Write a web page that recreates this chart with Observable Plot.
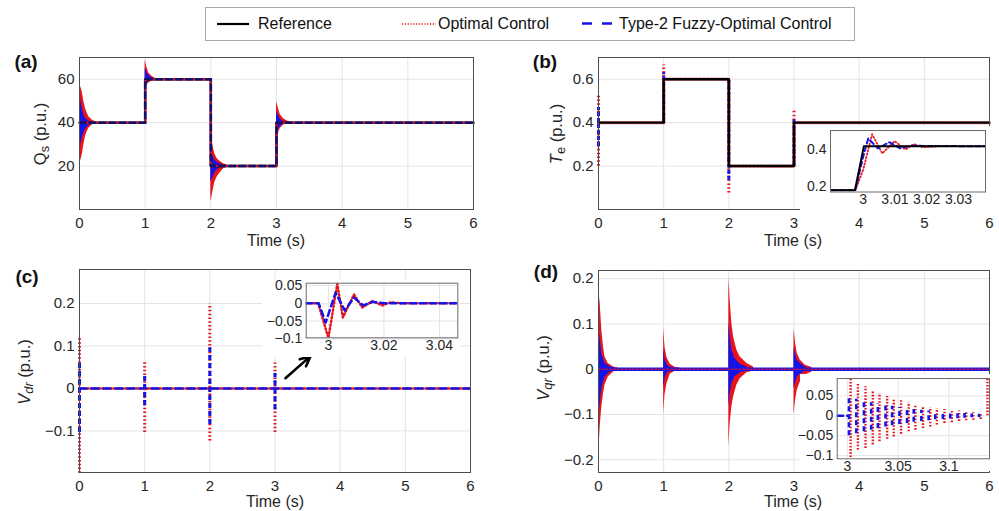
<!DOCTYPE html>
<html><head><meta charset="utf-8">
<script src="https://cdn.jsdelivr.net/npm/d3@7"></script>
<script src="https://cdn.jsdelivr.net/npm/@observablehq/plot@0.6"></script>
<style>
body{margin:0;background:#fff;}
#root{position:relative;width:999px;height:511px;overflow:hidden;font-family:"Liberation Sans",Arial,Helvetica,sans-serif;color:#262626;background:#fff;}
.lbl{position:absolute;transform:translate(-50%,-50%);white-space:nowrap;}
.letter{position:absolute;transform:translate(-50%,-50%);font-weight:bold;font-size:19px;color:#111;}
.xt{font-size:16px;}
.yt{position:absolute;font-size:16.5px;white-space:nowrap;transform:translate(-50%,-50%) rotate(-90deg);}
.yt sub{font-size:0.78em;vertical-align:-0.3em;line-height:0;}
.leg{position:absolute;font-size:16px;top:50%;transform:translateY(-50%);white-space:nowrap;color:#111;}
</style></head><body><div id="root"></div><script>
// ---------- data ----------
const timeTicks = [0, 1, 2, 3, 4, 5, 6];
const stepTimes = [0, 1, 2, 3, 6];
const qsRef = [40, 60, 20, 40, 40];
const teRef = [0.4, 0.6, 0.2, 0.4, 0.4];
const zeroTimes = [0, 6];
const zeroLevel = [0, 0];

const qsTicks = [20, 40, 60];
const teTicks = [0.2, 0.4, 0.6];
const vdrTicks = [-0.1, 0, 0.1, 0.2];
const vqrTicks = [-0.2, -0.1, 0, 0.1, 0.2];

// (a) Qs oscillation envelopes
const qsOptT   = [0, 0.04, 0.066, 0.09, 0.117, 0.142, 0.193, 0.244, 1.0, 1.03, 1.056, 1.107, 1.157, 2.0, 2.03, 2.06, 2.1, 2.15, 2.2, 2.25, 3.0, 3.036, 3.06, 3.112, 3.163, 3.214];
const qsOptHi  = [58.2, 54.3, 49.7, 46.6, 44.3, 42.7, 41.2, 40.4, 68.9, 65.1, 62.8, 61.2, 60.5, 35, 29.7, 25.6, 23.3, 22, 21, 20.5, 49.7, 45.8, 43.5, 41.7, 40.8, 40.3];
const qsOptLo  = [20.4, 25, 29.7, 33.5, 35.8, 37.4, 38.9, 39.7, 55.8, 57.4, 58.2, 59.3, 59.8, 3.5, 8, 12.5, 15.2, 17.3, 18.9, 19.6, 32.8, 35.8, 37.4, 38.9, 39.7, 40];
const qsOptSeg = [0, 0, 0, 0, 0, 0, 0, 0, 1, 1, 1, 1, 1, 2, 2, 2, 2, 2, 2, 2, 3, 3, 3, 3, 3, 3];
const qsFuzT   = [0, 0.015, 0.04, 0.066, 0.09, 0.142, 0.193, 1.0, 1.03, 1.07, 1.12, 2.0, 2.045, 2.085, 2.147, 2.198, 3.0, 3.036, 3.07, 3.122];
const qsFuzHi  = [51.2, 51, 46.6, 43.5, 41.9, 40.7, 40.1, 65.1, 62.8, 61.2, 60.5, 26.6, 23.5, 22, 21, 20.3, 45, 42.7, 41.2, 40.4];
const qsFuzLo  = [29.7, 29.7, 32.8, 35.1, 37.1, 38.7, 39.5, 56.6, 58, 59.3, 59.8, 12.7, 15.8, 18.1, 19.2, 19.8, 35.1, 37.1, 38.7, 39.5];
const qsFuzSeg = [0, 0, 0, 0, 0, 0, 0, 1, 1, 1, 1, 2, 2, 2, 2, 2, 3, 3, 3, 3];

// (b) Te transient spikes at the steps
const teSpikeT = [0, 1, 2, 3];
const teOptHi  = [0.53, 0.665, 0.6, 0.455];
const teOptLo  = [0.2, 0.4, 0.076, 0.2];
const teFuzHi  = [0.47, 0.63, 0.6, 0.42];
const teFuzLo  = [0.29, 0.4, 0.135, 0.2];

// (b) inset
const teInsXTicks = [3, 3.01, 3.02, 3.03];
const teInsYTicks = [0.2, 0.4];
const teInsRefT = [2.99, 2.9974, 3.0002, 3.0385];
const teInsRef  = [0.18, 0.18, 0.415, 0.415];
const teInsOptT = [2.99, 2.9975, 3.0, 3.0028, 3.006, 3.0099, 3.0133, 3.0159, 3.019, 3.0233];
const teInsOpt  = [0.18, 0.18, 0.29, 0.48, 0.377, 0.443, 0.398, 0.427, 0.41, 0.415];
const teInsFuzT = [2.99, 2.9975, 3.0, 3.0016, 3.0046, 3.0082, 3.0115, 3.015, 3.0385];
const teInsFuz  = [0.18, 0.18, 0.36, 0.458, 0.404, 0.437, 0.405, 0.418, 0.415];

// (c) Vdr spikes at the steps
const vdrSpikeT = [0, 1, 2, 3];
const vdrOptHi  = [0.121, 0.064, 0.199, 0.06];
const vdrOptLo  = [-0.2, -0.104, -0.124, -0.104];
const vdrFuzHi  = [0.064, 0.035, 0.096, 0.035];
const vdrFuzLo  = [-0.104, -0.04, -0.085, -0.05];

// (c) inset
const vdrInsXTicks = [3, 3.02, 3.04];
const vdrInsYTicks = [-0.1, -0.05, 0, 0.05];
const vdrInsOptT = [2.992, 2.9963, 3.0, 3.0032, 3.0052, 3.0092, 3.0122, 3.0158, 3.0194, 3.0225, 3.026, 3.0466];
const vdrInsOpt  = [0, 0, -0.098, 0.055, -0.04, 0.025, -0.012, 0.006, -0.006, 0.003, 0, 0];
const vdrInsFuzT = [2.992, 2.9965, 2.999, 3.0026, 3.0059, 3.0092, 3.0125, 3.016, 3.02, 3.0466];
const vdrInsFuz  = [0, 0, -0.054, 0.03, -0.02, 0.016, -0.006, 0.004, 0, 0];
const arrowT1 = [3.16], arrowV1 = [0.024], arrowT2 = [3.545], arrowV2 = [0.076];

// (d) Vqr oscillation envelopes
const vqrOptT   = [0, 0.026, 0.051, 0.077, 0.10, 0.15, 0.23, 0.3, 1.0, 1.02, 1.05, 1.1, 1.18, 1.25, 2.0, 2.02, 2.047, 2.073, 2.124, 2.175, 2.277, 2.38, 3.0, 3.025, 3.05, 3.097, 3.174, 3.276];
const vqrOptHi  = [0.182, 0.145, 0.086, 0.049, 0.027, 0.0125, 0.005, 0.003, 0.092, 0.049, 0.026, 0.011, 0.004, 0.003, 0.204, 0.152, 0.1, 0.071, 0.042, 0.027, 0.0125, 0.005, 0.09, 0.057, 0.035, 0.02, 0.009, 0.004];
const vqrOptLo  = [-0.197, -0.127, -0.083, -0.054, -0.035, -0.017, -0.006, -0.003, -0.099, -0.057, -0.032, -0.011, -0.004, -0.003, -0.171, -0.12, -0.083, -0.061, -0.035, -0.021, -0.008, -0.004, -0.1, -0.068, -0.046, -0.028, -0.013, -0.006];
const vqrOptSeg = [0, 0, 0, 0, 0, 0, 0, 0, 1, 1, 1, 1, 1, 1, 2, 2, 2, 2, 2, 2, 2, 2, 3, 3, 3, 3, 3, 3];
const vqrFuzT   = [0, 0.01, 0.05, 0.1, 0.18, 0.25, 1.0, 1.02, 1.05, 1.1, 1.16, 2.0, 2.02, 2.047, 2.09, 2.175, 2.277, 3.0, 3.025, 3.05, 3.097, 3.174];
const vqrFuzHi  = [0.088, 0.086, 0.035, 0.0125, 0.005, 0.003, 0.046, 0.022, 0.01, 0.004, 0.003, 0.104, 0.071, 0.042, 0.024, 0.011, 0.005, 0.049, 0.031, 0.02, 0.0125, 0.005];
const vqrFuzLo  = [-0.098, -0.095, -0.043, -0.017, -0.006, -0.003, -0.043, -0.02, -0.009, -0.004, -0.003, -0.083, -0.054, -0.032, -0.017, -0.008, -0.004, -0.043, -0.028, -0.017, -0.011, -0.004];
const vqrFuzSeg = [0, 0, 0, 0, 0, 0, 1, 1, 1, 1, 1, 2, 2, 2, 2, 2, 2, 3, 3, 3, 3, 3];

// (d) inset: oscillation swings
const vqrInsXTicks = [3, 3.05, 3.1];
const vqrInsYTicks = [-0.1, -0.05, 0, 0.05];
const vqrInsOptT  = [3.0032, 3.0104, 3.0179, 3.0251, 3.0317, 3.0392, 3.0457, 3.0529, 3.0604, 3.067, 3.0745, 3.0817, 3.0882, 3.0957, 3.1029, 3.1101, 3.117, 3.1241, 3.1313, 3.138];
const vqrInsOptHi = [0.093, 0.081, 0.073, 0.064, 0.056, 0.049, 0.043, 0.038, 0.033, 0.028, 0.024, 0.021, 0.018, 0.016, 0.013, 0.012, 0.010, 0.008, 0.0075, 0.095];
const vqrInsOptLo = [-0.105, -0.086, -0.082, -0.073, -0.065, -0.059, -0.053, -0.046, -0.04, -0.036, -0.032, -0.028, -0.023, -0.019, -0.017, -0.014, -0.0125, -0.011, -0.009, 0];
const vqrInsFuzT  = [3.0016, 3.0088, 3.0163, 3.0235, 3.0301, 3.0376, 3.0441, 3.0513, 3.0588, 3.0654, 3.0729, 3.0801, 3.0866, 3.0941, 3.1013, 3.1085, 3.1154, 3.1225, 3.1297];
const vqrInsFuzHi = [0.047, 0.042, 0.037, 0.033, 0.03, 0.027, 0.024, 0.021, 0.018, 0.016, 0.014, 0.012, 0.01, 0.009, 0.008, 0.007, 0.006, 0.005, 0.004];
const vqrInsFuzLo = [-0.05, -0.045, -0.04, -0.036, -0.032, -0.028, -0.025, -0.022, -0.019, -0.016, -0.014, -0.012, -0.01, -0.009, -0.008, -0.007, -0.006, -0.005, -0.004];
const vqrInsPreT = [2.99, 3.0];
const vqrInsPre  = [0, 0];

// ---------- drawing ----------
const FONT = '"Liberation Sans", Arial, Helvetica, sans-serif';
const RED = "#e8141c", BLUE = "#1414e8", GRID = "#e4e4e4";
const root = document.getElementById("root");
const fmt = d => (d < 0 ? "\u2212" : "") + String(+Math.abs(d).toFixed(4));

function place(node, left, top) {
  node.style.position = "absolute";
  node.style.left = left + "px";
  node.style.top = top + "px";
  root.appendChild(node);
}
function html(cls, text, x, y) {
  const d = document.createElement("div");
  d.className = cls;
  d.innerHTML = text;
  d.style.left = x + "px";
  d.style.top = y + "px";
  root.appendChild(d);
}

function mainPlot({left, top, width, height, ml, mr, mt, mb, yDomain, yTicks, marks}) {
  const p = Plot.plot({
    width, height, marginLeft: ml, marginRight: mr, marginTop: mt, marginBottom: mb,
    style: {fontFamily: FONT, fontSize: "15px", color: "#262626", background: "transparent", overflow: "visible"},
    x: {domain: [0, 6], label: null},
    y: {domain: yDomain, label: null},
    marks: [
      Plot.gridX(timeTicks, {stroke: GRID, strokeOpacity: 1}),
      Plot.gridY(yTicks, {stroke: GRID, strokeOpacity: 1}),
      ...marks,
      Plot.frame({stroke: "#4d4d4d"}),
      Plot.axisX(timeTicks, {tickSize: 0, tickPadding: 8, tickFormat: fmt, fontSize: 15, label: null}),
      Plot.axisY(yTicks, {tickSize: 0, tickPadding: 5, tickFormat: fmt, fontSize: 15, label: null})
    ]
  });
  place(p, left, top);
}

function insetPlot({left, top, width, height, ml, mr, mt, mb, xDomain, xTicks, yDomain, yTicks, grid, marks}) {
  const p = Plot.plot({
    width, height, marginLeft: ml, marginRight: mr, marginTop: mt, marginBottom: mb,
    style: {fontFamily: FONT, fontSize: "14px", color: "#262626", background: "#fff", overflow: "visible"},
    x: {domain: xDomain, label: null},
    y: {domain: yDomain, label: null},
    marks: [
      grid ? Plot.gridX(xTicks, {stroke: GRID, strokeOpacity: 1}) : null,
      grid ? Plot.gridY(yTicks, {stroke: GRID, strokeOpacity: 1}) : null,
      ...marks,
      Plot.frame({stroke: "#6a6a6a"}),
      Plot.axisX(xTicks, {tickSize: 0, tickPadding: 2, tickFormat: fmt, fontSize: 14, label: null}),
      Plot.axisY(yTicks, {tickSize: 0, tickPadding: 4, tickFormat: fmt, fontSize: 14, label: null})
    ]
  });
  place(p, left, top);
}

const redDot = {stroke: RED, strokeWidth: 2.5, strokeDasharray: "1.5,2.3", clip: true};
const blueDash = {stroke: BLUE, strokeWidth: 2.5, strokeDasharray: "6,4", clip: true};

// ----- legend -----
const leg = document.createElement("div");
leg.style.cssText = "position:absolute;left:205px;top:7px;width:648px;height:32px;border:1px solid #a9a9a9;background:#fff;";
leg.innerHTML = `
<svg style="position:absolute;left:11px;top:14px" width="34" height="4"><line x1="0" y1="2" x2="32" y2="2" stroke="#000" stroke-width="2.2"/></svg>
<div class="leg" style="left:52px">Reference</div>
<svg style="position:absolute;left:196px;top:14px" width="36" height="4"><line x1="0" y1="2" x2="34" y2="2" stroke="${RED}" stroke-width="1.6" stroke-dasharray="1.2,1.6"/></svg>
<div class="leg" style="left:232px">Optimal Control</div>
<svg style="position:absolute;left:376px;top:13px" width="34" height="5"><line x1="0" y1="2.5" x2="32" y2="2.5" stroke="${BLUE}" stroke-width="2.5" stroke-dasharray="10,10"/></svg>
<div class="leg" style="left:413px">Type-2 Fuzzy-Optimal Control</div>`;
root.appendChild(leg);

// ----- (a) -----
mainPlot({left: 0, top: 40, width: 500, height: 215, ml: 79, mr: 27, mt: 17, mb: 46,
  yDomain: [0, 70], yTicks: qsTicks,
  marks: [
    Plot.areaY(qsOptT, {x: qsOptT, y1: qsOptLo, y2: qsOptHi, z: qsOptSeg, fill: RED, clip: true}),
    Plot.areaY(qsFuzT, {x: qsFuzT, y1: qsFuzLo, y2: qsFuzHi, z: qsFuzSeg, fill: BLUE, clip: true}),
    Plot.line(stepTimes, {x: stepTimes, y: qsRef, curve: "step-after", stroke: "#000", strokeWidth: 2.4}),
    Plot.line(stepTimes, {x: stepTimes, y: qsRef, curve: "step-after", ...redDot}),
    Plot.line(stepTimes, {x: stepTimes, y: qsRef, curve: "step-after", ...blueDash, stroke: "#10106e"})
  ]});

// ----- (b) -----
mainPlot({left: 500, top: 40, width: 499, height: 215, ml: 98, mr: 10, mt: 17, mb: 46,
  yDomain: [0, 0.7], yTicks: teTicks,
  marks: [
    Plot.ruleX(teSpikeT, {x: teSpikeT, y1: teOptLo, y2: teOptHi, ...redDot, strokeWidth: 3, clip: false}),
    Plot.ruleX(teSpikeT, {x: teSpikeT, y1: teFuzLo, y2: teFuzHi, ...blueDash, strokeWidth: 3, strokeDasharray: "4,2", clip: false}),
    Plot.line(stepTimes, {x: stepTimes, y: teRef, curve: "step-after", ...redDot, strokeWidth: 3.2, strokeOpacity: 0.6}),
    Plot.line(stepTimes, {x: stepTimes, y: teRef, curve: "step-after", stroke: "#000", strokeWidth: 2.4})
  ]});

// ----- (c) -----
mainPlot({left: 0, top: 255, width: 500, height: 256, ml: 79, mr: 30, mt: 14, mb: 39,
  yDomain: [-0.198, 0.28], yTicks: vdrTicks,
  marks: [
    Plot.line(zeroTimes, {x: zeroTimes, y: zeroLevel, ...redDot}),
    Plot.line(zeroTimes, {x: zeroTimes, y: zeroLevel, ...blueDash, strokeDasharray: "7,5"}),
    Plot.ruleX(vdrSpikeT, {x: vdrSpikeT, y1: vdrOptLo, y2: vdrOptHi, ...redDot, strokeWidth: 3, clip: false}),
    Plot.ruleX(vdrSpikeT, {x: vdrSpikeT, y1: vdrFuzLo, y2: vdrFuzHi, ...blueDash, strokeWidth: 3, strokeDasharray: "5,3", clip: false}),
    Plot.arrow(arrowT1, {x1: arrowT1, y1: arrowV1, x2: arrowT2, y2: arrowV2, stroke: "#000", strokeWidth: 2.6, headLength: 11, headAngle: 50})
  ]});

// ----- (d) -----
mainPlot({left: 500, top: 255, width: 499, height: 256, ml: 98, mr: 10, mt: 15, mb: 39,
  yDomain: [-0.228, 0.218], yTicks: vqrTicks,
  marks: [
    Plot.areaY(vqrOptT, {x: vqrOptT, y1: vqrOptLo, y2: vqrOptHi, z: vqrOptSeg, fill: RED, clip: true}),
    Plot.areaY(vqrFuzT, {x: vqrFuzT, y1: vqrFuzLo, y2: vqrFuzHi, z: vqrFuzSeg, fill: BLUE, clip: true}),
    Plot.line(zeroTimes, {x: zeroTimes, y: zeroLevel, stroke: BLUE, strokeWidth: 3.5, clip: true}),
    Plot.line(zeroTimes, {x: zeroTimes, y: zeroLevel, ...redDot, strokeWidth: 1.6, strokeOpacity: 0.8})
  ]});

// ----- insets -----
insetPlot({left: 800, top: 126, width: 190, height: 86, ml: 30, mr: 5, mt: 4, mb: 20.5,
  xDomain: [2.9897, 3.0385], xTicks: teInsXTicks, yDomain: [0.17, 0.5], yTicks: teInsYTicks, grid: false,
  marks: [
    Plot.line(teInsOptT, {x: teInsOptT, y: teInsOpt, ...redDot, strokeWidth: 1.8, strokeDasharray: "1.2,2.2"}),
    Plot.line(teInsFuzT, {x: teInsFuzT, y: teInsFuz, ...blueDash, strokeWidth: 2, strokeDasharray: "5,3"}),
    Plot.line(teInsRefT, {x: teInsRefT, y: teInsRef, stroke: "#000", strokeWidth: 2, clip: true})
  ]});

insetPlot({left: 262, top: 279, width: 198, height: 78, ml: 43.7, mr: 2.7, mt: 3.7, mb: 19.7,
  xDomain: [2.992, 3.0466], xTicks: vdrInsXTicks, yDomain: [-0.097, 0.0565], yTicks: vdrInsYTicks, grid: true,
  marks: [
    Plot.line(vdrInsOptT, {x: vdrInsOptT, y: vdrInsOpt, ...redDot, strokeWidth: 2.4, strokeDasharray: "1.4,2.4"}),
    Plot.line(vdrInsFuzT, {x: vdrInsFuzT, y: vdrInsFuz, ...blueDash, strokeWidth: 2.5, strokeDasharray: "6,4"})
  ]});

insetPlot({left: 800, top: 374, width: 191, height: 97, ml: 36.7, mr: 2, mt: 4, mb: 12.7,
  xDomain: [2.99, 3.14], xTicks: vqrInsXTicks, yDomain: [-0.108, 0.094], yTicks: vqrInsYTicks, grid: true,
  marks: [
    Plot.line(vqrInsPreT, {x: vqrInsPreT, y: vqrInsPre, ...blueDash, strokeWidth: 2.5}),
    Plot.ruleX(vqrInsOptT, {x: vqrInsOptT, y1: vqrInsOptLo, y2: vqrInsOptHi, ...redDot, strokeWidth: 2.4, strokeDasharray: "1.6,1.6"}),
    Plot.ruleX(vqrInsFuzT, {x: vqrInsFuzT, y1: vqrInsFuzLo, y2: vqrInsFuzHi, ...blueDash, strokeWidth: 2.6, strokeDasharray: "5,3"})
  ]});

// ----- texts -----
html("letter", "(a)", 26, 62);
html("letter", "(b)", 545, 62);
html("letter", "(c)", 27, 277);
html("letter", "(d)", 546, 272);
html("lbl xt", "Time (s)", 276, 241);
html("lbl xt", "Time (s)", 793, 241);
html("lbl xt", "Time (s)", 275, 502);
html("lbl xt", "Time (s)", 793, 502);
html("yt", "Q<sub>s</sub> (p.u.)", 40, 134);
html("yt", "<i>T</i><sub>e</sub> (p.u.)", 556, 134);
html("yt", "<i>V<sub>dr</sub></i> (p.u.)", 24, 372);
html("yt", "<i>V<sub>qr</sub></i> (p.u.)", 543, 368);
</script></body></html>
